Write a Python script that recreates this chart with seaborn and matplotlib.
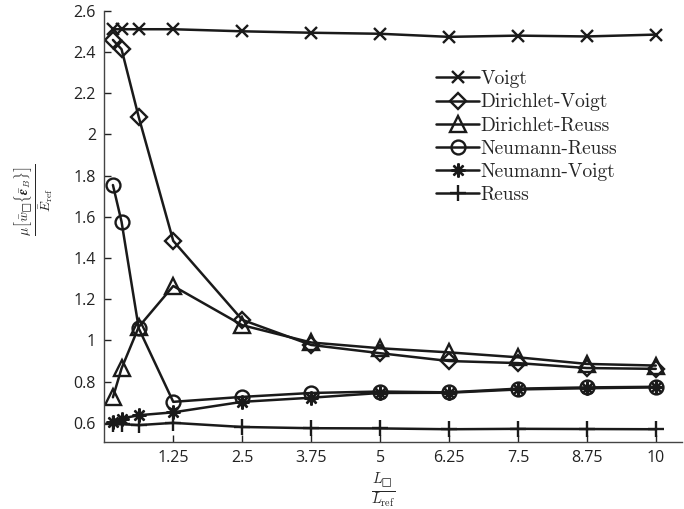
import numpy as np
import pandas as pd
import matplotlib
matplotlib.use("Agg")
import matplotlib.pyplot as plt
import seaborn as sns

# ---- data ----
x_vals = [0.15625, 0.3125, 0.625, 1.25, 2.5, 3.75, 5, 6.25, 7.5, 8.75, 10]
voigt = [2.51, 2.51, 2.51, 2.51, 2.50, 2.493, 2.488, 2.473, 2.479, 2.475, 2.484]
dirichlet_voigt = [2.458, 2.413, 2.083, 1.483, 1.10, 0.978, 0.938, 0.90, 0.89, 0.866, 0.862]
dirichlet_reuss = [0.724, 0.864, 1.066, 1.264, 1.074, 0.99, 0.962, 0.942, 0.918, 0.886, 0.878]
neumann_reuss = [1.754, 1.576, 1.058, 0.702, 0.726, 0.745, 0.752, 0.748, 0.766, 0.772, 0.775]
neumann_voigt = [0.603, 0.621, 0.637, 0.651, 0.702, 0.722, 0.745, 0.746, 0.762, 0.768, 0.772]
reuss = [0.594, 0.594, 0.589, 0.600, 0.580, 0.574, 0.573, 0.569, 0.571, 0.570, 0.569]

series_names = ["Voigt", "Dirichlet-Voigt", "Dirichlet-Reuss",
                "Neumann-Reuss", "Neumann-Voigt", "Reuss"]
series_vals = [voigt, dirichlet_voigt, dirichlet_reuss,
               neumann_reuss, neumann_voigt, reuss]

x_ticks = [1.25, 2.5, 3.75, 5, 6.25, 7.5, 8.75, 10]
x_ticklabels = ["1.25", "2.5", "3.75", "5", "6.25", "7.5", "8.75", "10"]
y_ticks = [0.6, 0.8, 1.0, 1.2, 1.4, 1.6, 1.8, 2.0, 2.2, 2.4, 2.6]
y_ticklabels = ["0.6", "0.8", "1", "1.2", "1.4", "1.6", "1.8", "2", "2.2", "2.4", "2.6"]

# ---- style ----
sns.set_style("ticks")
plt.rcParams["font.family"] = ["Open Sans", "DejaVu Sans"]
plt.rcParams["mathtext.fontset"] = "cm"
plt.rcParams["mathtext.fallback"] = "stix"

markers = ["x", "D", "^", "o", (8, 2, 0), "+"]
msizes = [9, 8.5, 12, 10, 10, 11]

fig = plt.figure(figsize=(6.84, 5.09), dpi=100)
ax = fig.add_axes([0.1525, 0.132, 0.845, 0.847])

for name, vals, mk, ms in zip(series_names, series_vals, markers, msizes):
    df = pd.DataFrame({"x": x_vals, "y": vals})
    sns.lineplot(data=df, x="x", y="y", ax=ax, color="#1a1a1a",
                 marker=mk, markersize=ms, markerfacecolor="none",
                 markeredgecolor="#1a1a1a", markeredgewidth=1.7,
                 linewidth=1.8, label=name, sort=False)

ax.set_xlim(0, 10.48)
ax.set_ylim(0.508, 2.6)
ax.set_xticks(x_ticks)
ax.set_xticklabels(x_ticklabels)
ax.set_yticks(y_ticks)
ax.set_yticklabels(y_ticklabels)
ax.tick_params(direction="in", length=5, width=1, colors="#222222",
               labelsize=11.5, pad=6)
for side in ["top", "right"]:
    ax.spines[side].set_visible(False)
for side in ["left", "bottom"]:
    ax.spines[side].set_color("#444444")
    ax.spines[side].set_linewidth(1.0)

ax.set_xlabel("")
ax.set_ylabel("")
fig.text(0.56, 0.036, "$\\frac{L_\u25a1}{L_{\\mathrm{ref}}}$", ha="center",
         va="center", fontsize=15)
fig.text(0.05, 0.607,
         "$\\frac{\\mu\\left[\\bar{w}_\u25a1\\{\\bar{\\boldsymbol{\\epsilon}}_B\\}\\right]}{\\bar{E}_{\\mathrm{ref}}}$",
         ha="center", va="center", rotation=90, fontsize=14)

leg = ax.legend(loc="upper left", bbox_to_anchor=(0.638, 0.862),
                bbox_transform=fig.transFigure, frameon=False,
                borderpad=0, borderaxespad=0, handlelength=2.2,
                handletextpad=0.08, labelspacing=0.27,
                prop={"family": "cmr10", "size": 14})

fig.savefig("out.png", dpi=100)
